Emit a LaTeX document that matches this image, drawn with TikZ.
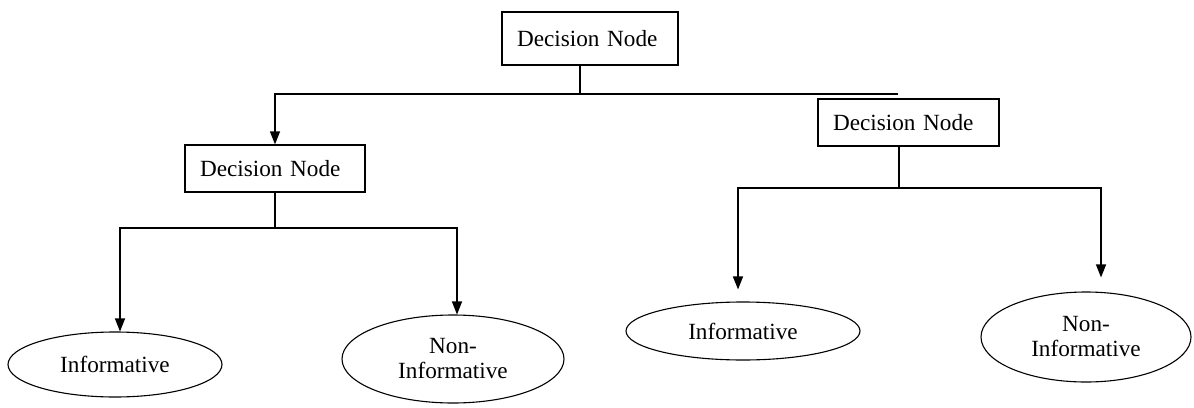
\documentclass[tikz,border=0pt]{standalone}
\usepackage{fontspec}
\setmainfont{Liberation Serif}
\usetikzlibrary{arrows.meta,shapes.geometric}
\begin{document}
\begin{tikzpicture}[x=0.5pt,y=-0.5pt,
  lbl/.style={font=\fontsize{11.6pt}{12.5pt}\selectfont},
  box/.style={lbl, draw, line width=0.6pt, rectangle, inner xsep=7.5pt, inner ysep=0pt,
    minimum height=23.5pt, text width=#1, align=left},
  conn/.style={line width=0.65pt, draw=black},
  tip/.tip={Triangle[length=6.5pt,width=5pt]},
  oval/.style={lbl, draw, ellipse, line width=0.55pt, inner sep=0pt}
]
\useasboundingbox (0,0) rectangle (1194,407);

% decision boxes
\node[box=73pt, minimum height=26.5pt] (top) at (590,38.5) {Decision Node};
\node[box=75pt] (left) at (275,168.5) {Decision Node};
\node[box=75.5pt] (right) at (908.5,122.5) {Decision Node};

% leaves
\node[oval, minimum width=107pt, minimum height=32.5pt] (e1) at (115,364.5) {Informative\hspace{7.5pt}};
\node[oval, align=center, minimum width=111pt, minimum height=44pt] (e2) at (453,359) {Non-\\Informative};
\node[oval, minimum width=117pt, minimum height=29pt] (e3) at (743,331) {Informative\hspace{16pt}};
\node[oval, align=center, minimum width=105pt, minimum height=45pt] (e4) at (1086,337) {Non-\\Informative};

% junction points
\coordinate (j1) at (580,94);
\coordinate (h1l) at (275,94);
\coordinate (h1r) at (898,94);
\coordinate (j2) at (275,228);
\coordinate (h2l) at (120,228);
\coordinate (h2r) at (457,228);
\coordinate (j3) at (899,188);
\coordinate (h3l) at (738,188);
\coordinate (h3r) at (1101,188);

% top level
\draw[conn] (top.south -| j1) -- (j1);
\draw[conn, -tip] (h1r) -- (h1l) -- (left.north);

% left subtree
\draw[conn] (left.south) -- (j2);
\draw[conn, tip-tip] (e1.north -| h2l) -- (h2l) -- (h2r) -- (e2.north -| h2r);

% right subtree
\draw[conn] (right.south -| j3) -- (j3);
\draw[conn, tip-tip, shorten <=6pt, shorten >=7pt] (e3.north -| h3l) -- (h3l) -- (h3r) -- (e4.north -| h3r);
\end{tikzpicture}
\end{document}
